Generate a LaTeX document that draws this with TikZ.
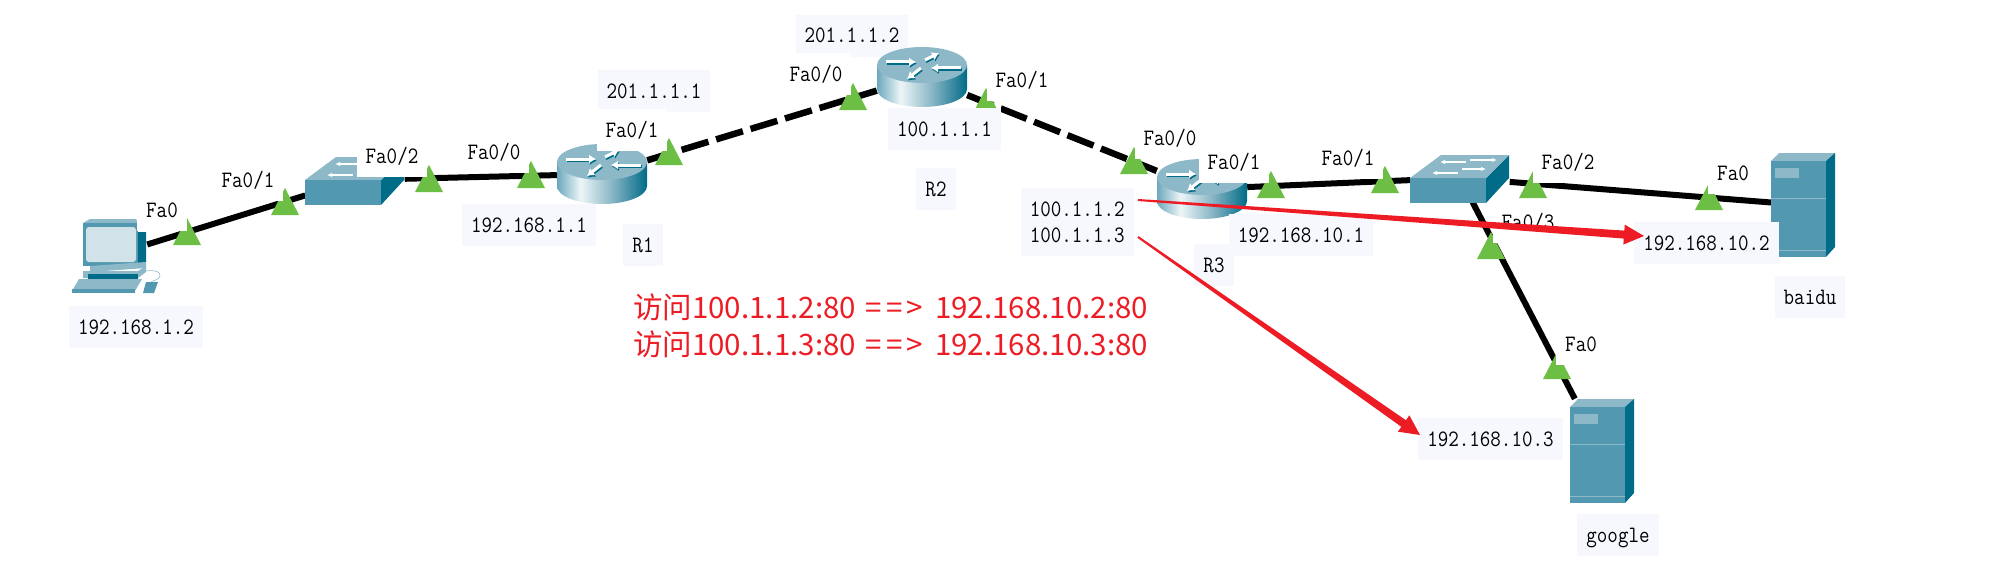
\documentclass[tikz,border=0pt]{standalone}
\usepackage{fontspec}
\usepackage{tikz}
\usetikzlibrary{arrows.meta,positioning,calc}
\newfontfamily\cjk{Noto Sans CJK SC}
\newfontfamily\labelfont[FakeStretch=0.87]{Latin Modern Mono}

\definecolor{devfront}{HTML}{5298B0}
\definecolor{devtop}{HTML}{8DB8C8}
\definecolor{devside}{HTML}{006C87}
\definecolor{portgreen}{HTML}{6DBE45}
\definecolor{labelbg}{HTML}{F6F8FE}
\definecolor{natred}{HTML}{ED1C24}

\pgfdeclarehorizontalshading{routerside}{100bp}{rgb(0bp)=(0.42,0.66,0.74);rgb(25bp)=(0.42,0.66,0.74);rgb(38bp)=(0.93,0.96,0.97);rgb(55bp)=(0.55,0.72,0.78);rgb(75bp)=(0,0.42,0.53);rgb(100bp)=(0,0.42,0.53)}

\tikzset{
  x=1pt, y=-1pt,
  iplabel/.style={fill=labelbg, inner xsep=9pt, inner ysep=0pt, minimum height=42pt,
    text height=14.5pt, text depth=0pt, font=\labelfont\fontsize{23.5}{26}\selectfont},
  portlabel/.style={iplabel, fill=white},
  netlink/.style={line width=6pt, black},
  wanlink/.style={line width=6.5pt, black, dash pattern=on 28pt off 8pt},
  routernode/.style={inner sep=0pt, minimum width=90pt, minimum height=60pt},
  switchnode/.style={inner sep=0pt, minimum width=99pt, minimum height=48pt},
  servernode/.style={inner sep=0pt, minimum width=63pt, minimum height=104pt},
  pcnode/.style={inner sep=0pt, minimum width=74pt, minimum height=74pt},
  routerpic/.pic={
    \path[shading=routerside] (-45,-12) -- (-45,12) .. controls (-45,22) and (-25,30) .. (0,30)
      .. controls (25,30) and (45,22) .. (45,12) -- (45,-12) -- cycle;
    \fill[devtop] (0,-12) ellipse [x radius=45, y radius=18];
    \foreach \ax/\ay/\bx/\by in {-36/-15/-6/-15, 3/-17/17/-24, 39/-9/9/-9, -1/-9/-15/2} {
      \draw[devside, line width=3pt, -{Latex[length=7pt,width=9pt]}] (\ax+0.8,\ay+1.6) -- (\bx+0.8,\by+1.6);
      \draw[white, line width=3pt, -{Latex[length=7pt,width=9pt]}] (\ax,\ay) -- (\bx,\by);
    }
  },
  switchpic/.pic={
    \fill[devside] (26,0) -- (49,-23) -- (49,0) -- (26,25) -- cycle;
    \fill[devtop] (-50,0) -- (-19,-23) -- (49,-23) -- (26,0) -- cycle;
    \fill[devfront] (-50,0) rectangle (26,25);
    \foreach \ax/\bx/\ay in {6/-20/-16, 10/37/-18, -2/-28/-5, 2/26/-9}
      \draw[white, line width=1.4pt, -{Latex[length=5pt,width=4.5pt]}] (\ax,\ay) -- (\bx,\ay);
  },
  serverpic/.pic={
    \fill[devtop] (-32,-44) -- (-24,-52) -- (32,-52) -- (23,-44) -- cycle;
    \fill[devside] (23,-44) -- (32,-52) -- (32,42) -- (23,52) -- cycle;
    \fill[devfront] (-32,-44) rectangle (23,52);
    \fill[devtop] (-28,-37) rectangle (-4,-27);
    \draw[devtop, line width=0.6pt] (-32,-7) -- (23,-7);
    \draw[devtop, line width=0.6pt] (-32,45) -- (23,45);
  },
  pcpic/.pic={
    \fill[devtop] (-27,-33) -- (-20,-37) -- (26,-37) -- (28,-33) -- cycle;
    \fill[devside] (28,-24) -- (36,-24) -- (36,6) -- (28,10) -- cycle;
    \fill[devfront] (-27,-33) rectangle (28,10);
    \fill[devtop!40!white, rounded corners=3pt] (-24,-29) rectangle (26,6);
    \fill[devtop] (-20,10) -- (36,6) -- (36,12) -- (-20,16) -- cycle;
    \fill[devtop] (-27,15) -- (28,15) -- (36,10) -- (36,16) -- (28,22) -- (-27,22) -- cycle;
    \fill[devside] (-22,18) rectangle (28,23);
    \fill[devtop] (-31,23) -- (32,23) -- (25,35) -- (-38,35) -- cycle;
    \fill[devfront] (-38,33) rectangle (25,37);
    \fill[devfront] (36,26) -- (48,26) -- (44,37) -- (33,37) -- cycle;
    \draw[devtop, line width=0.6pt] (32,16) .. controls (40,13) and (52,15) .. (50,20) .. controls (49,24) and (44,24) .. (41,26);
  },
  porttri/.pic={
    \fill[portgreen] (0,0) -- (14,27) -- (-14,27) -- cycle;
  },
}

\newcommand{\natarrow}[2]{
  \coordinate (natbase) at ($(#2)!20pt!(#1)$);
  \fill[natred] ($(#1)!1pt!90:(#2)$) -- ($(natbase)!4pt!90:(#2)$) -- ($(natbase)!10pt!90:(#2)$) -- (#2)
    -- ($(natbase)!10pt!-90:(#2)$) -- ($(natbase)!4pt!-90:(#2)$) -- ($(#1)!1pt!-90:(#2)$) -- cycle;
}

\begin{document}
\begin{tikzpicture}
  \useasboundingbox (0,0) rectangle (2008,586);
  % Define nodes
  \node[pcnode]     (pc)     at (110,256)  {};
  \node[switchnode] (swa)    at (355,180)  {};
  \node[routernode] (rone)   at (602,174)  {};
  \node[routernode] (rtwo)   at (922,77)   {};
  \node[routernode] (rthree) at (1202,189) {};
  \node[switchnode] (swb)    at (1460,178) {};
  \node[servernode] (baidu)  at (1803,205) {};
  \node[servernode] (google) at (1602,451) {};
  % Connect the nodes
  \draw[netlink] (pc) -- (swa);
  \draw[netlink] (swa) -- (rone);
  \draw[wanlink] (rone) -- (rtwo);
  \draw[wanlink] (rtwo) -- (rthree);
  \draw[netlink] (rthree) -- (swb);
  \draw[netlink] (swb) -- (baidu);
  \draw[netlink] (swb) -- (google);
  % Port markers
  \foreach \px/\py in {187/218, 285/188, 429/165, 531/161, 669/138, 853/83, 986/88,
    1134/147, 1271/171, 1385/166, 1533/171, 1709/183, 1491/232, 1557/352}
    \pic at (\px,\py) {porttri};
  % Device labels
  \node[iplabel, above=-10pt of rtwo, xshift=-70pt] (rtwotop) {201.1.1.2};
  % Device icons
  \pic at (pc) {pcpic};
  \pic at (swa) {switchpic};
  \pic at (rone) {routerpic};
  \pic at (rtwo) {routerpic};
  \pic at (rthree) {routerpic};
  \pic at (swb) {switchpic};
  \pic at (baidu) {serverpic};
  \pic at (google) {serverpic};
  \node[iplabel, below=13pt of pc, xshift=26pt] (pcip) {192.168.1.2};
  \node[iplabel, below=0pt of rone, xshift=-73pt] (roneip) {192.168.1.1};
  \node[iplabel, below=20pt of rone, xshift=41pt] (ronename) {R1};
  \node[iplabel] (ronetop) at (654,91) {201.1.1.1};
  \node[iplabel, below=1pt of rtwo, xshift=22.5pt] (rtwoip) {100.1.1.1};
  \node[iplabel, below=61pt of rtwo, xshift=14pt] (rtwoname) {R2};
  \node[iplabel, below=-5pt of rthree, xshift=99pt] (rthreeip) {192.168.10.1};
  \node[iplabel, below=25pt of rthree, xshift=12pt] (rthreename) {R3};
  \node[iplabel, left=23pt of rthree, yshift=-33pt, minimum height=68pt, text height=, text depth=, align=center] (rthreevip) {100.1.1.2\\100.1.1.3};
  \node[iplabel, left=-7.5pt of baidu, yshift=-38pt] (baiduip) {192.168.10.2};
  \node[iplabel, below=19pt of baidu, xshift=7pt] (baiduname) {baidu};
  \node[iplabel, left=7.5pt of google, yshift=12pt] (googleip) {192.168.10.3};
  \node[iplabel, below=11pt of google, xshift=16pt] (googlename) {google};
  % Port labels
  \node[portlabel] (pa) at (162,210)  {Fa0};
  \node[portlabel] (pb) at (248,180)  {Fa0/1};
  \node[portlabel] (pc2) at (392,156) {Fa0/2};
  \node[portlabel] (pd) at (494,152)  {Fa0/0};
  \node[portlabel] (pe) at (632,130)  {Fa0/1};
  \node[portlabel] (pf) at (816,74)   {Fa0/0};
  \node[portlabel] (pg) at (1022,80)  {Fa0/1};
  \node[portlabel] (ph) at (1170,138) {Fa0/0};
  \node[portlabel] (pi) at (1234,162) {Fa0/1};
  \node[portlabel] (pj) at (1348,158) {Fa0/1};
  \node[portlabel] (pk) at (1568,162) {Fa0/2};
  \node[portlabel] (pl) at (1733,173) {Fa0};
  \node[portlabel] (pm) at (1528,222) {Fa0/3};
  \node[portlabel] (pn) at (1581,344) {Fa0};
  % NAT arrows
  \coordinate (natfroma) at (1138,200);
  \coordinate (nattoa) at (1644,236);
  \coordinate (natfromb) at (1138,237);
  \coordinate (nattob) at (1420,435);
  \natarrow{natfroma}{nattoa}
  \natarrow{natfromb}{nattob}
  \node[anchor=west, inner sep=0pt, align=left, text=natred, font=\cjk\fontsize{29.5}{37}\selectfont] (natnote) at (633,326)
    {访问100.1.1.2:80\hspace{10pt}=\hspace{4pt}=\hspace{4pt}>\hspace{12pt}192.168.10.2:80\\访问100.1.1.3:80\hspace{10pt}=\hspace{4pt}=\hspace{4pt}>\hspace{12pt}192.168.10.3:80};
\end{tikzpicture}
\end{document}
